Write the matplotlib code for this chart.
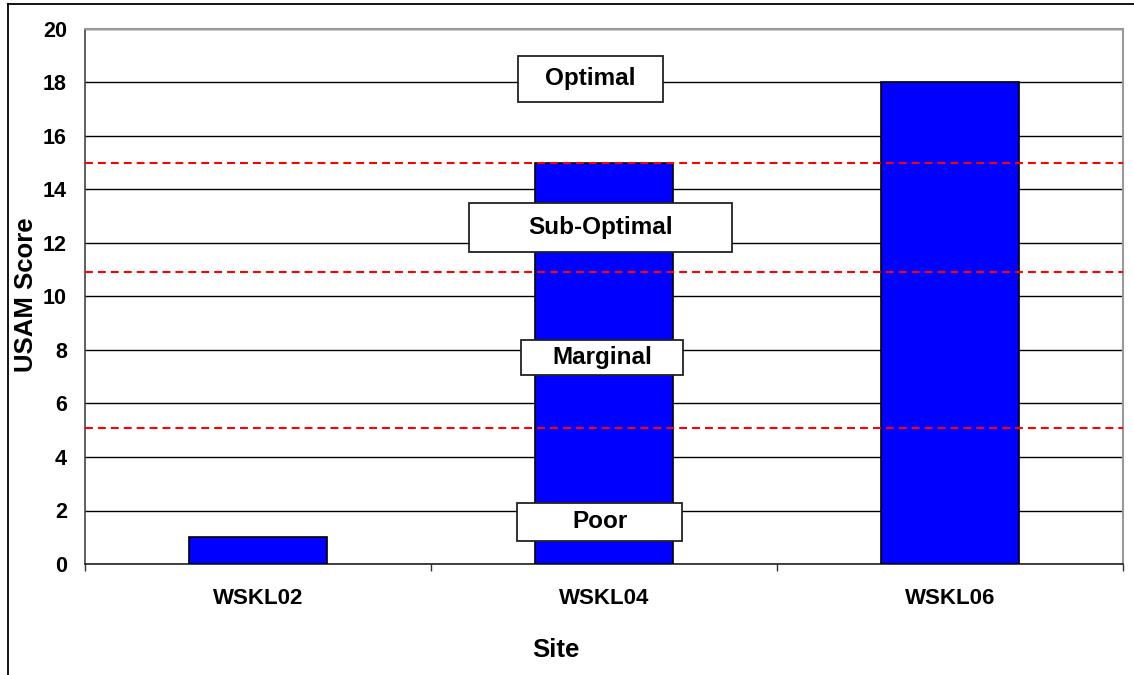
import matplotlib
matplotlib.use("Agg")
import matplotlib.pyplot as plt
from matplotlib.patches import Rectangle
from matplotlib.lines import Line2D

# ---- data ----
sites = ["WSKL02", "WSKL04", "WSKL06"]
scores = [1, 15, 18]
thresholds = [15, 10.9, 5.1]
class_labels = ["Optimal", "Sub-Optimal", "Marginal", "Poor"]
yticks = [0, 2, 4, 6, 8, 10, 12, 14, 16, 18, 20]

# ---- layout of label boxes (x centre, y bottom, y top, width) in data units ----
box_layout = [
    (0.96, 17.28, 19.0, 0.419),
    (0.99, 11.66, 13.48, 0.758),
    (0.994, 7.07, 8.37, 0.466),
    (0.988, 0.86, 2.29, 0.477),
]

W, H, DPI = 1134, 675, 100
plt.rcParams['font.family'] = ['Liberation Sans', 'DejaVu Sans']
fig = plt.figure(figsize=(W / DPI, H / DPI), dpi=DPI)
fig.patch.set_facecolor('white')

L, R, T, B = 85, 1123, 29, 564
ax = fig.add_axes([L / W, (H - B) / H, (R - L) / W, (B - T) / H])

x = list(range(len(sites)))
ax.bar(x, scores, width=0.4, color='#0000FF', edgecolor='black', linewidth=1.2, zorder=3)

ax.set_xlim(-0.5, len(sites) - 0.5)
ax.set_ylim(0, 20)
ax.set_yticks(yticks)
ax.set_yticklabels([str(v) for v in yticks], fontsize=15.5, fontweight='bold')
ax.tick_params(axis='y', length=0, pad=13)
ax.set_xticks(x)
ax.set_xticklabels(sites, fontsize=16, fontweight='bold')
ax.tick_params(axis='x', which='major', length=0, pad=17)
ax.set_xticks([i - 0.5 for i in range(len(sites) + 1)], minor=True)
ax.tick_params(axis='x', which='minor', length=5, width=1, color='#333333', direction='out')

ax.yaxis.grid(True, color='black', linewidth=1, zorder=0)
ax.set_axisbelow(True)
for s in ['top', 'right']:
    ax.spines[s].set_color('#999999')
    ax.spines[s].set_linewidth(1.5)
ax.spines['left'].set_color('#444444')
ax.spines['left'].set_linewidth(1.2)
ax.spines['bottom'].set_color('#222222')
ax.spines['bottom'].set_linewidth(1.2)

for t in thresholds:
    ax.axhline(t, color='#FF0000', linewidth=1.5, dashes=(3.8, 2.4), zorder=4)

for lab, (cx, y0, y1, w) in zip(class_labels, box_layout):
    ax.add_patch(Rectangle((cx - w / 2, y0), w, y1 - y0, facecolor='white',
                           edgecolor='#222222', linewidth=1.3, zorder=5))
    ax.text(cx, (y0 + y1) / 2, lab, ha='center', va='center', fontsize=17.5,
            fontweight='bold', zorder=6)

fig.text(26 / W, 1 - 295 / H, "USAM Score", rotation=90, ha='center', va='center',
         fontsize=18.5, fontweight='bold')
fig.text(556 / W, 1 - 650 / H, "Site", ha='center', va='center',
         fontsize=18.5, fontweight='bold')

# outer chart border (partially visible)
fig.add_artist(Line2D([7.5 / W, 7.5 / W], [0, 1 - 3.5 / H], color='black', linewidth=1.3,
                      transform=fig.transFigure))
fig.add_artist(Line2D([7.5 / W, 1], [1 - 3.5 / H, 1 - 3.5 / H], color='black', linewidth=1.3,
                      transform=fig.transFigure))

fig.savefig("out.png", dpi=DPI, facecolor='white')
